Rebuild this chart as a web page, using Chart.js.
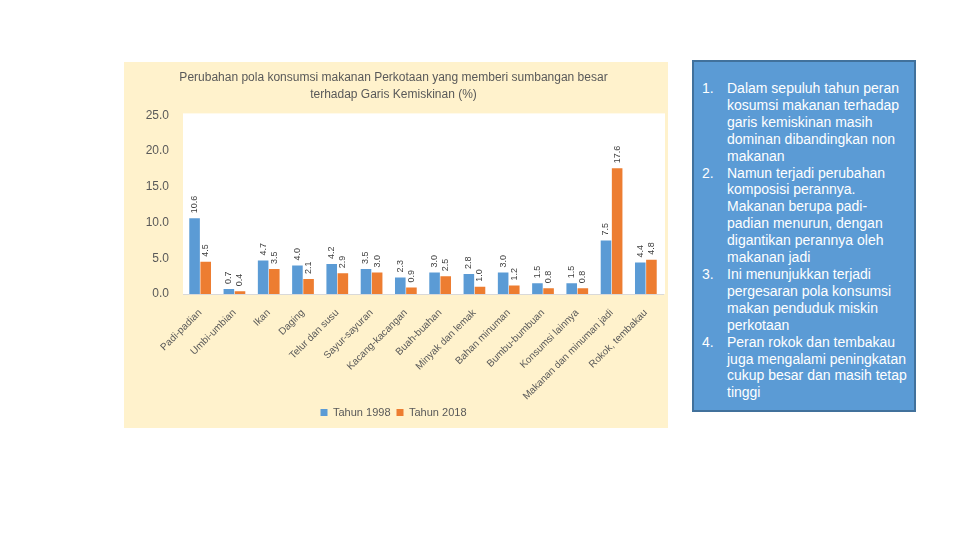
<!DOCTYPE html>
<html>
<head>
<meta charset="utf-8">
<script src="https://cdn.jsdelivr.net/npm/chart.js@4/dist/chart.umd.min.js"></script>
<style>
  body { margin: 0; background: #fff; width: 960px; height: 540px; position: relative; overflow: hidden; }
  .chart-box { position: absolute; left: 124px; top: 62px; width: 544px; height: 366px; background: #fff2cc; }
  .note { position: absolute; left: 692px; top: 60px; width: 220px; height: 348px; background: #5b9bd5; border: 2px solid #41719c;
    color: #fff; font-family: "Liberation Sans", Arial, sans-serif; font-size: 14px; line-height: 16.9px; }
  .note ol { margin: 0; padding: 18px 0 0 0; list-style: none; }
  .note li { position: relative; padding-left: 33px; white-space: nowrap; }
  .note li span { position: absolute; left: 8px; }
</style>
</head>
<body>
<div class="chart-box"><canvas id="myChart" width="544" height="366"></canvas></div>
<div class="note">
  <ol>
    <li><span>1.</span>Dalam sepuluh tahun peran<br>kosumsi makanan terhadap<br>garis kemiskinan masih<br>dominan dibandingkan non<br>makanan</li>
    <li><span>2.</span>Namun terjadi perubahan<br>komposisi perannya.<br>Makanan berupa padi-<br>padian menurun, dengan<br>digantikan perannya oleh<br>makanan jadi</li>
    <li><span>3.</span>Ini menunjukkan terjadi<br>pergesaran pola konsumsi<br>makan penduduk miskin<br>perkotaan</li>
    <li><span>4.</span>Peran rokok dan tembakau<br>juga mengalami peningkatan<br>cukup besar dan masih tetap<br>tinggi</li>
  </ol>
</div>
<script>
const categories = [
  'Padi-padian', 'Umbi-umbian', 'Ikan', 'Daging', 'Telur dan susu', 'Sayur-sayuran',
  'Kacang-kacangan', 'Buah-buahan', 'Minyak dan lemak', 'Bahan minuman', 'Bumbu-bumbuan',
  'Konsumsi lainnya', 'Makanan dan minuman jadi', 'Rokok, tembakau'
];
const tahun1998 = [10.6, 0.7, 4.7, 4.0, 4.2, 3.5, 2.3, 3.0, 2.8, 3.0, 1.5, 1.5, 7.5, 4.4];
const tahun2018 = [4.5, 0.4, 3.5, 2.1, 2.9, 3.0, 0.9, 2.5, 1.0, 1.2, 0.8, 0.8, 17.6, 4.8];
const yTicks = [0, 5, 10, 15, 20, 25];

const textColor = '#595959';
const fontFamily = '"Liberation Sans", Arial, sans-serif';

// white plot area on the cream background
const plotBackground = {
  id: 'plotBackground',
  beforeDraw(chart) {
    const { ctx, chartArea } = chart;
    ctx.save();
    ctx.fillStyle = '#ffffff';
    ctx.fillRect(chartArea.left, chartArea.top - 2, chartArea.right - chartArea.left + 2, chartArea.bottom - chartArea.top + 2);
    ctx.restore();
  }
};

// vertical value labels above each bar
const valueLabels = {
  id: 'valueLabels',
  afterDatasetsDraw(chart) {
    const ctx = chart.ctx;
    chart.data.datasets.forEach((ds, i) => {
      const meta = chart.getDatasetMeta(i);
      meta.data.forEach((bar, j) => {
        ctx.save();
        ctx.translate(bar.x, bar.y - 5);
        ctx.rotate(-Math.PI / 2);
        ctx.font = '9px ' + fontFamily;
        ctx.fillStyle = '#404040';
        ctx.textAlign = 'left';
        ctx.textBaseline = 'middle';
        ctx.fillText(ds.data[j].toFixed(1), 0, 0);
        ctx.restore();
      });
    });
  }
};

const ctx = document.getElementById('myChart').getContext('2d');
new Chart(ctx, {
  type: 'bar',
  data: {
    labels: categories,
    datasets: [
      { label: 'Tahun 1998', data: tahun1998, backgroundColor: '#5b9bd5' },
      { label: 'Tahun 2018', data: tahun2018, backgroundColor: '#ed7d31' }
    ]
  },
  options: {
    responsive: false,
    animation: false,
    layout: { padding: { left: 0, right: 5, top: 0, bottom: 0 } },
    datasets: { bar: { barPercentage: 0.95, categoryPercentage: 0.65 } },
    scales: {
      x: {
        grid: { display: false },
        border: { display: true, color: '#d9d9d9' },
        ticks: {
          autoSkip: false,
          minRotation: 45,
          maxRotation: 45,
          padding: 5,
          color: textColor,
          font: { family: fontFamily, size: 10 }
        },
        afterFit(scale) { scale.height = 107; }
      },
      y: {
        min: 0,
        max: 25,
        afterBuildTicks(scale) { scale.ticks = yTicks.map(v => ({ value: v })); },
        grid: { display: false },
        border: { display: false },
        ticks: {
          padding: 6,
          color: textColor,
          font: { family: fontFamily, size: 12 },
          callback: v => v.toFixed(1)
        },
        afterFit(scale) { scale.width = 59; }
      }
    },
    plugins: {
      title: {
        display: true,
        text: ['Perubahan pola konsumsi makanan Perkotaan yang memberi sumbangan besar', 'terhadap Garis Kemiskinan (%)'],
        color: textColor,
        font: { family: fontFamily, size: 12, weight: 'normal', lineHeight: 1.35 },
        padding: { top: 8, bottom: 13 }
      },
      legend: {
        position: 'bottom',
        labels: {
          boxWidth: 7,
          boxHeight: 7,
          padding: 6,
          color: textColor,
          font: { family: fontFamily, size: 11 }
        }
      },
      tooltip: { enabled: false }
    }
  },
  plugins: [plotBackground, valueLabels]
});
</script>
</body>
</html>
